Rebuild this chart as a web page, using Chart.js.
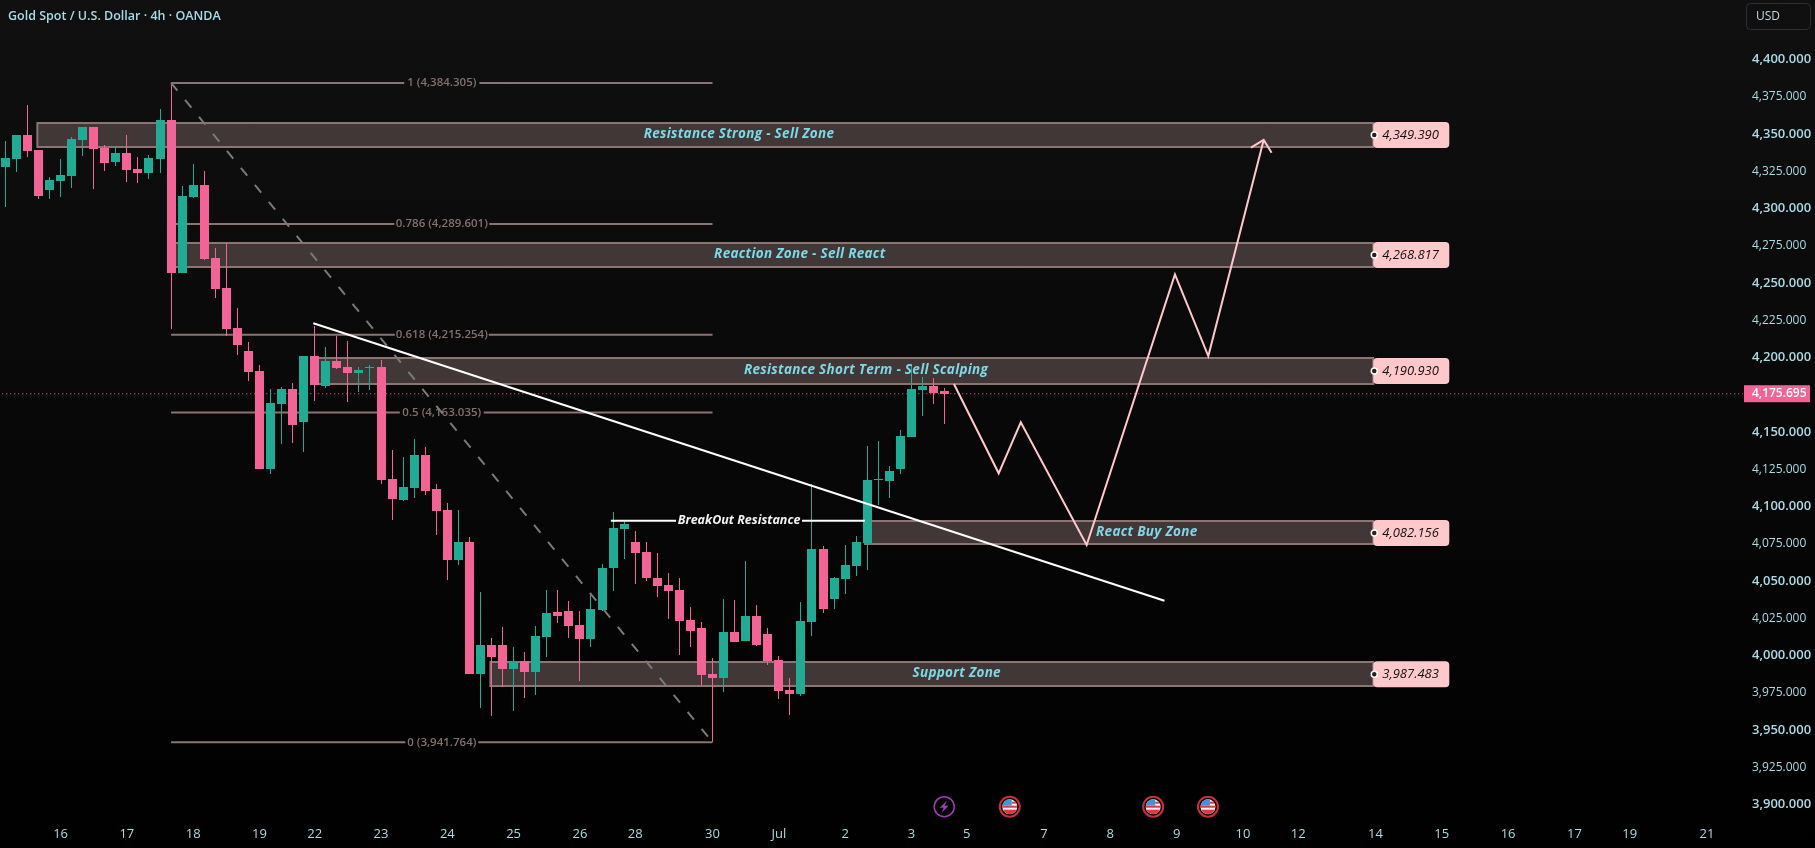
<!DOCTYPE html>
<html>
<head>
<meta charset="utf-8">
<title>Gold Spot / U.S. Dollar</title>
<script src="https://cdn.jsdelivr.net/npm/chart.js@4/dist/chart.umd.js"></script>
<style>
    html, body { margin: 0; padding: 0; height: 100%; background: linear-gradient(#101010, #000000); overflow: hidden; }
    canvas { display: block; }
</style>
</head>
<body>
<canvas id="goldChart" width="1815" height="848"></canvas>
<script>
    "use strict";

    // 4h candles, oldest first
    var opens = [4327.9, 4333.2, 4349.3, 4339.3, 4312.4, 4318.5, 4321.8, 4346.0, 4354.7, 4340.6,
        4331.2, 4337.3, 4326.5, 4323.8, 4333.2, 4359.4, 4256.7, 4307.7, 4315.8, 4266.8,
        4246.7, 4219.8, 4204.4, 4191.0, 4125.2, 4168.8, 4178.9, 4156.7, 4201.0, 4180.9,
        4197.7, 4193.6, 4189.6, 4193.0, 4193.6, 4118.5, 4104.4, 4112.4, 4134.6, 4111.8,
        4097.6, 4064.1, 4076.2, 3987.6, 4007.1, 4007.1, 3990.9, 3996.3, 3988.9, 4012.4,
        4029.2, 4029.9, 4020.5, 4011.1, 4030.5, 4058.7, 4084.9, 4076.2, 4069.5, 4052.0,
        4047.3, 4044.0, 4023.8, 4018.5, 3987.6, 3984.9, 4015.8, 4009.7, 4026.5, 4014.4,
        3997.0, 3976.9, 3974.2, 4022.5, 4071.5, 4037.9, 4051.3, 4060.1, 4075.5, 4117.8,
        4117.1, 4125.2, 4146.6, 4178.2, 4180.9, 4177.4];
    var highs = [4345.3, 4349.3, 4369.5, 4339.3, 4321.1, 4333.2, 4348.0, 4354.7, 4354.7, 4342.6,
        4341.9, 4349.3, 4334.6, 4335.9, 4366.8, 4384.305, 4315.1, 4329.9, 4325.2, 4273.5,
        4276.9, 4233.2, 4210.4, 4195.0, 4178.9, 4180.2, 4182.9, 4201.0, 4221.1, 4207.1,
        4214.4, 4211.1, 4193.6, 4195.0, 4198.3, 4137.9, 4133.2, 4145.3, 4139.9, 4115.1,
        4102.1, 4097.6, 4079.5, 4042.6, 4011.7, 4019.1, 4005.7, 4002.4, 4019.8, 4044.0,
        4044.0, 4036.6, 4029.9, 4040.6, 4061.4, 4096.3, 4090.9, 4083.6, 4076.2, 4068.8,
        4055.4, 4052.0, 4032.5, 4022.5, 3998.3, 4037.9, 4037.2, 4063.4, 4033.9, 4018.5,
        3999.7, 3984.9, 4035.9, 4115.1, 4073.5, 4052.7, 4074.2, 4080.2, 4140.6, 4143.9,
        4127.2, 4151.4, 4195.6, 4186.9, 4186.2, 4179.5];
    var lows = [4301.2, 4324.7, 4334.6, 4306.4, 4306.4, 4307.7, 4313.8, 4335.2, 4313.1, 4325.2,
        4328.5, 4317.8, 4317.1, 4319.8, 4323.8, 4219.1, 4256.7, 4307.0, 4265.4, 4239.9,
        4214.4, 4201.7, 4184.2, 4125.2, 4121.8, 4142.0, 4142.6, 4136.6, 4170.8, 4179.5,
        4192.3, 4170.1, 4176.9, 4178.2, 4115.1, 4090.9, 4103.7, 4105.7, 4107.7, 4080.9,
        4050.7, 4060.7, 3987.6, 3964.8, 3959.4, 3978.9, 3962.8, 3971.5, 3973.5, 3999.0,
        4021.8, 4011.7, 3982.9, 4005.7, 4029.9, 4043.3, 4064.8, 4048.0, 4050.0, 4039.3,
        4024.5, 4000.4, 4005.7, 3980.2, 3941.764, 3975.5, 4009.1, 4009.7, 4006.4, 3993.6,
        3970.8, 3960.1, 3972.8, 4013.1, 4028.5, 4031.2, 4041.3, 4053.4, 4057.4, 4101.0,
        4105.7, 4121.8, 4146.6, 4160.7, 4168.8, 4155.4];
    var closes = [4333.9, 4349.3, 4338.6, 4308.4, 4319.1, 4322.5, 4346.6, 4354.7, 4339.9, 4330.5,
        4337.3, 4325.8, 4323.8, 4333.9, 4359.4, 4256.7, 4308.4, 4315.8, 4266.1, 4246.0,
        4219.1, 4208.4, 4190.3, 4125.2, 4169.5, 4178.9, 4154.7, 4201.0, 4181.5, 4197.7,
        4193.0, 4189.6, 4191.6, 4193.6, 4117.8, 4105.0, 4113.1, 4134.6, 4110.4, 4097.0,
        4064.1, 4076.2, 3987.6, 4007.1, 3999.0, 3990.9, 3996.3, 3988.9, 4013.1, 4028.5,
        4026.5, 4019.8, 4011.1, 4031.2, 4058.7, 4085.6, 4088.3, 4068.8, 4052.0, 4046.6,
        4043.3, 4023.2, 4016.4, 3986.9, 3984.9, 4015.8, 4009.1, 4026.5, 4007.1, 3996.3,
        3976.2, 3974.2, 4023.2, 4071.5, 4031.2, 4052.0, 4060.7, 4076.2, 4117.8, 4118.5,
        4123.8, 4147.3, 4178.9, 4180.9, 4176.2, 4175.695];
    var lastPrice = 4175.695;

    var priceTicks = [3900, 3925, 3950, 3975, 4000, 4025, 4050, 4075, 4100, 4125, 4150, 4175, 4200,
        4225, 4250, 4275, 4300, 4325, 4350, 4375, 4400];
    var dayTicks = [5, 11, 17, 23, 28, 34, 40, 46, 52, 57, 64, 70, 76, 82, 87, 94, 100, 106, 112, 117,
        124, 130, 136, 142, 147, 154];
    var dayLabels = ['16', '17', '18', '19', '22', '23', '24', '25', '26', '28', '30', 'Jul', '2', '3', '5', '7',
        '8', '9', '10', '12', '14', '15', '16', '17', '19', '21'];

    // supply / demand zones
    var zoneNames = ['Resistance Strong - Sell Zone', 'Reaction Zone - Sell React', 'Resistance Short Term - Sell Scalping',
        'React Buy Zone', 'Support Zone'];
    var zoneTops = [4357.6, 4276.8, 4199.7, 4090.3, 3995.7];
    var zoneBottoms = [4341.2, 4260.7, 4182.4, 4075.0, 3979.6];
    var zoneValues = [4349.39, 4268.817, 4190.93, 4082.156, 3987.483];
    var zoneStartBars = [2.9, 15.3, 27.9, 77.8, 43.9];
    var zoneTextBars = [66.4, 71.9, 77.9, 103.3, 86.1];
    var zoneEndBar = 123.8;

    // fibonacci retracement, high at bar 15 to low at bar 64
    var fibRatios = ['1', '0.786', '0.618', '0.5', '0'];
    var fibPrices = [4384.305, 4289.601, 4215.254, 4163.035, 3941.764];
    var fibGaps = [3.4, 4.3, 4.25, 3.8, 3.3];
    var fibBars = [15, 64];

    var trendBars = [27.87, 104.9];
    var trendPrices = [4223, 4036.7];
    var breakoutBars = [54.8, 60.7, 72.1, 77.8];
    var breakoutPrice = 4090.5;
    var breakoutTextBar = 66.4;

    // projected path drawn after the last candle
    var pathBars = [85.85, 89.9, 91.9, 97.86, 105.85, 108.87, 113.88];
    var pathPrices = [4182.2, 4122.3, 4156.5, 4074.2, 4255.8, 4201, 4346];
    var arrowBars = [112.73, 113.88, 114.6];
    var arrowPrices = [4340.8, 4346, 4337.4];

    var eventBars = [84.97, 90.9, 103.88, 108.84];
    var eventKinds = ['bolt', 'us', 'us', 'us'];

    var GREEN = '#22ab94';
    var PINK = '#f26496';
    var AXIS_TEXT = '#a9dbe6';
    var FIB_COLOR = '#8c7472';

    function points(xs, ys) {
        return xs.map(function (x, i) { return { x: x, y: ys[i] }; });
    }

    function fibSegments() {
        var mid = (fibBars[0] + fibBars[1]) / 2;
        return fibPrices.map(function (price, i) {
            return {
                type: 'line', order: 6, borderColor: FIB_COLOR, borderWidth: 2, pointRadius: 0,
                data: [
                    { x: fibBars[0], y: price }, { x: mid - fibGaps[i], y: price },
                    { x: mid, y: null },
                    { x: mid + fibGaps[i], y: price }, { x: fibBars[1], y: price }
                ]
            };
        });
    }

    function candleColors() {
        return closes.map(function (c, i) { return c >= opens[i] ? GREEN : PINK; });
    }

    function text(ctx, str, x, y, font, color, align, spacing) {
        ctx.font = font;
        ctx.letterSpacing = spacing || '0px';
        ctx.fillStyle = color;
        ctx.textAlign = align || 'center';
        ctx.textBaseline = 'middle';
        ctx.fillText(str, x, y);
        ctx.letterSpacing = '0px';
    }

    function drawFlag(ctx, cx, cy) {
        ctx.strokeStyle = '#c9303a';
        ctx.lineWidth = 2;
        ctx.beginPath();
        ctx.arc(cx, cy, 10, 0, Math.PI * 2);
        ctx.stroke();
        ctx.save();
        ctx.beginPath();
        ctx.arc(cx, cy, 7.5, 0, Math.PI * 2);
        ctx.clip();
        ctx.fillStyle = '#f4f4f4';
        ctx.fillRect(cx - 8, cy - 8, 16, 16);
        ctx.fillStyle = '#e0393e';
        ctx.fillRect(cx - 8, cy - 1, 16, 2);
        ctx.fillRect(cx - 8, cy + 3, 16, 5);
        ctx.fillRect(cx + 2, cy - 5, 6, 2);
        ctx.fillStyle = '#4a90d9';
        ctx.fillRect(cx - 8, cy - 8, 10, 7);
        ctx.restore();
    }

    function drawBolt(ctx, cx, cy) {
        ctx.strokeStyle = '#9c3fb5';
        ctx.lineWidth = 1.5;
        ctx.beginPath();
        ctx.arc(cx, cy, 10, 0, Math.PI * 2);
        ctx.stroke();
        ctx.fillStyle = '#9c3fb5';
        ctx.beginPath();
        ctx.moveTo(cx + 2.5, cy - 6);
        ctx.lineTo(cx - 4.5, cy + 1);
        ctx.lineTo(cx - 0.5, cy + 1);
        ctx.lineTo(cx - 2.5, cy + 6);
        ctx.lineTo(cx + 4.5, cy - 1);
        ctx.lineTo(cx + 0.5, cy - 1);
        ctx.closePath();
        ctx.fill();
    }

    // keeps candle edges on whole pixels
    var snapCandles = {
        id: 'snapCandles',
        afterDatasetsUpdate: function (chart) {
            chart.getSortedVisibleDatasetMetas().forEach(function (meta) {
                if (meta.type !== 'bar') return;
                meta.data.forEach(function (el) {
                    var top = Math.round(Math.min(el.y, el.base));
                    var bottom = Math.round(Math.max(el.y, el.base));
                    if (bottom === top) bottom = top + 1;
                    el.x = Math.floor(el.x) + 0.5;
                    el.y = top;
                    el.base = bottom;
                });
            });
        }
    };

    var zonesBehind = {
        id: 'zonesBehind',
        beforeDatasetsDraw: function (chart) {
            var ctx = chart.ctx;
            var x = chart.scales.x;
            var y = chart.scales.y;
            ctx.save();
            zoneNames.forEach(function (name, i) {
                var left = x.getPixelForValue(zoneStartBars[i]);
                var right = x.getPixelForValue(zoneEndBar);
                var top = Math.round(y.getPixelForValue(zoneTops[i]));
                var bottom = Math.round(y.getPixelForValue(zoneBottoms[i]));
                ctx.fillStyle = '#413736';
                ctx.fillRect(left, top, right - left, bottom - top);
                ctx.strokeStyle = FIB_COLOR;
                ctx.lineWidth = 2;
                ctx.strokeRect(left, top, right - left, bottom - top);
            });
            var mid = x.getPixelForValue((fibBars[0] + fibBars[1]) / 2);
            fibPrices.forEach(function (price, i) {
                var label = fibRatios[i] + ' (' + price.toLocaleString('en-US', { minimumFractionDigits: 3 }) + ')';
                text(ctx, label, mid, y.getPixelForValue(price), '600 11.5px "Open Sans"', '#85706e');
            });
            ctx.restore();
        }
    };

    var overlays = {
        id: 'overlays',
        afterDatasetsDraw: function (chart) {
            var ctx = chart.ctx;
            var x = chart.scales.x;
            var y = chart.scales.y;
            var endPx = x.getPixelForValue(zoneEndBar);
            ctx.save();

            zoneNames.forEach(function (name, i) {
                var mid = y.getPixelForValue(zoneValues[i]);
                text(ctx, name, x.getPixelForValue(zoneTextBars[i]), mid - 0.5, 'italic 700 13.5px "Open Sans"', '#7ed8e6', 'center', '0.3px');
                ctx.fillStyle = '#ffc9cc';
                ctx.beginPath();
                ctx.roundRect(endPx, mid - 13, 76, 26, 4);
                ctx.fill();
                ctx.fillStyle = '#2a1f1f';
                ctx.strokeStyle = '#ffffff';
                ctx.lineWidth = 1.5;
                ctx.beginPath();
                ctx.arc(endPx + 1, mid, 3, 0, Math.PI * 2);
                ctx.fill();
                ctx.stroke();
                text(ctx, zoneValues[i].toLocaleString('en-US', { minimumFractionDigits: 3 }), endPx + 9, mid,
                    'italic 500 13px "Open Sans"', '#111111', 'left');
            });

            text(ctx, 'BreakOut Resistance', x.getPixelForValue(breakoutTextBar), y.getPixelForValue(breakoutPrice),
                'italic 700 12.5px "Open Sans"', '#f2f2f2');

            eventBars.forEach(function (bar, i) {
                var cx = x.getPixelForValue(bar);
                if (eventKinds[i] === 'bolt') drawBolt(ctx, cx, 806.7);
                else drawFlag(ctx, cx, 806.7);
            });

            // last price tag on the axis
            var lastY = y.getPixelForValue(lastPrice);
            ctx.fillStyle = PINK;
            ctx.fillRect(1744, lastY - 8.5, 66, 17);
            text(ctx, lastPrice.toLocaleString('en-US', { minimumFractionDigits: 3 }), 1752, lastY,
                '600 12px "Open Sans"', '#ffffff', 'left');

            text(ctx, 'Gold Spot / U.S. Dollar \u00b7 4h \u00b7 OANDA', 8, 16, '600 12.5px "Open Sans"', AXIS_TEXT, 'left');

            ctx.strokeStyle = '#2b2e33';
            ctx.lineWidth = 1;
            ctx.beginPath();
            ctx.roundRect(1746.5, 3.5, 64, 26, 4);
            ctx.stroke();
            text(ctx, 'USD', 1756, 17, '500 12px "Open Sans"', '#c4d6da', 'left');
            ctx.restore();
        }
    };

    var wickColors = candleColors();
    var datasets = [
        {
            type: 'bar', order: 4, barThickness: 1, grouped: false, inflateAmount: 0, backgroundColor: wickColors,
            data: highs.map(function (h, i) { return { x: i, y: [lows[i], h] }; })
        },
        {
            type: 'bar', order: 3, barThickness: 9, grouped: false, inflateAmount: 0, backgroundColor: wickColors,
            data: opens.map(function (o, i) { return { x: i, y: [o, closes[i]] }; })
        },
        {
            type: 'line', order: 7, borderColor: PINK, borderWidth: 1, borderDash: [1, 3], pointRadius: 0,
            data: [{ x: -1, y: lastPrice }, { x: 158, y: lastPrice }]
        },
        {
            type: 'line', order: 2, borderColor: '#7a7a7a', borderWidth: 2, borderDash: [10, 12], pointRadius: 0,
            data: points(fibBars, [fibPrices[0], fibPrices[4]])
        },
        {
            type: 'line', order: 1, borderColor: '#ffffff', borderWidth: 2, pointRadius: 0,
            data: points(trendBars, trendPrices)
        },
        {
            type: 'line', order: 1, borderColor: '#ffffff', borderWidth: 2, pointRadius: 0,
            data: [
                { x: breakoutBars[0], y: breakoutPrice }, { x: breakoutBars[1], y: breakoutPrice },
                { x: 66, y: null },
                { x: breakoutBars[2], y: breakoutPrice }, { x: breakoutBars[3], y: breakoutPrice }
            ]
        },
        {
            type: 'line', order: 1, borderColor: '#ffc9cc', borderWidth: 2, pointRadius: 0, tension: 0,
            data: points(pathBars, pathPrices)
        },
        {
            type: 'line', order: 1, borderColor: '#ffc9cc', borderWidth: 2, pointRadius: 0,
            data: points(arrowBars, arrowPrices)
        }
    ].concat(fibSegments());

    new Chart(document.getElementById('goldChart').getContext('2d'), {
        type: 'bar',
        data: { datasets: datasets },
        plugins: [snapCandles, zonesBehind, overlays],
        options: {
            responsive: false,
            animation: false,
            events: [],
            layout: { padding: 0 },
            plugins: { legend: { display: false }, tooltip: { enabled: false }, title: { display: false } },
            scales: {
                x: {
                    type: 'linear',
                    min: -0.482,
                    max: 157.26,
                    offset: false,
                    grid: { display: false, drawTicks: false },
                    border: { display: false },
                    afterBuildTicks: function (scale) {
                        scale.ticks = dayTicks.map(function (v) { return { value: v }; });
                    },
                    afterFit: function (scale) {
                        scale.height = 28;
                        scale.paddingLeft = 0;
                        scale.paddingRight = 0;
                    },
                    ticks: {
                        autoSkip: false,
                        maxRotation: 0,
                        padding: 6,
                        color: AXIS_TEXT,
                        font: { family: '"Open Sans"', size: 13, weight: '500' },
                        callback: function (value) { return dayLabels[dayTicks.indexOf(value)]; }
                    }
                },
                y: {
                    position: 'right',
                    min: 3889.6,
                    max: 4439.93,
                    grid: { display: false, drawTicks: false },
                    border: { display: false },
                    afterBuildTicks: function (scale) {
                        scale.ticks = priceTicks.map(function (v) { return { value: v }; });
                    },
                    afterFit: function (scale) {
                        scale.width = 72;
                        scale.paddingTop = 0;
                        scale.paddingBottom = 0;
                    },
                    ticks: {
                        padding: 9,
                        color: AXIS_TEXT,
                        font: function (ctx) {
                            var major = ctx.tick && ctx.tick.value % 50 === 0;
                            return { family: '"Open Sans"', size: major ? 13 : 12, weight: major ? '600' : '500' };
                        },
                        callback: function (value) {
                            return value.toLocaleString('en-US', { minimumFractionDigits: 3 });
                        }
                    }
                }
            }
        }
    });
</script>
</body>
</html>
